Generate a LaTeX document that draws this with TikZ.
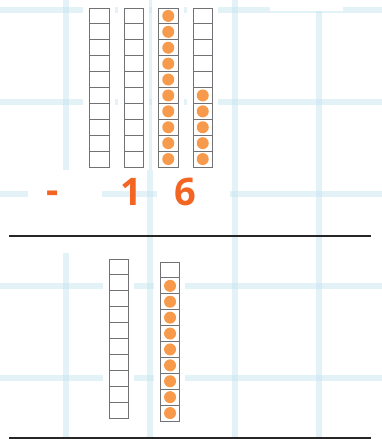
\documentclass[tikz,border=0pt]{standalone}
\usepackage{fontspec}
\newfontfamily\digitfont{Open Sans}

\definecolor{gridblue}{RGB}{199,229,239}
\definecolor{dotorange}{RGB}{247,154,75}
\definecolor{digitorange}{RGB}{242,101,34}
\definecolor{framegray}{RGB}{112,114,117}

% left x, top y, filled cells counted from the bottom
\newcommand{\tenstrip}[3]{%
  \fill[white] (#1-6.5,#2-8) rectangle (#1+25,#2+162);
  \foreach \k in {0,...,9}
    \draw[cell] (#1,#2+15.9*\k) rectangle ++(19.5,15.9);
  \ifnum#3>0
    \foreach \k in {1,...,#3}
      \fill[dotorange] (#1+9.75,#2+159-15.9*\k+7.95) circle[radius=6pt];
  \fi
}

\begin{document}
\begin{tikzpicture}[
  x=1pt,y=-1pt,
  gridline/.style={gridblue,opacity=0.5,line width=6pt},
  cell/.style={draw=framegray,line width=0.9pt},
  digit/.style={digitorange,font=\digitfont\bfseries\fontsize{38}{40}\selectfont,inner sep=0pt,anchor=base},
  rule/.style={black!85,line width=2pt}
]
  \useasboundingbox (0,0) rectangle (382,439);

  % background grid
  \foreach \gx in {66.3,150.3,235.3,319.3}
    \draw[gridline] (\gx,0) -- (\gx,439);
  \foreach \gy in {10.3,102,194,286,378.3}
    \draw[gridline] (0,\gy) -- (382,\gy);
  \fill[white] (270,0) rectangle (343,11);
  \fill[white] (28,170) rectangle (102,253);
  \fill[white] (157,172) rectangle (230,215);

  % upper strips
  \tenstrip{89.5}{8}{0}
  \tenstrip{124}{8}{0}
  \tenstrip{158.5}{8}{10}
  \tenstrip{193}{8}{5}

  \node[digit] (dash) at (53,203) {-};
  \node[digit] (tens) at (131,205.5) {1};
  \node[digit] (ones) at (185,205.5) {6};

  \coordinate (ruleAL) at (9,236);
  \coordinate (ruleAR) at (371,236);
  \draw[rule] (ruleAL) -- (ruleAR);

  % lower strips
  \tenstrip{109.3}{259}{0}
  \tenstrip{160.3}{262}{9}

  \coordinate (ruleBL) at (9,437.8);
  \coordinate (ruleBR) at (371,437.8);
  \draw[rule] (ruleBL) -- (ruleBR);
\end{tikzpicture}
\end{document}
